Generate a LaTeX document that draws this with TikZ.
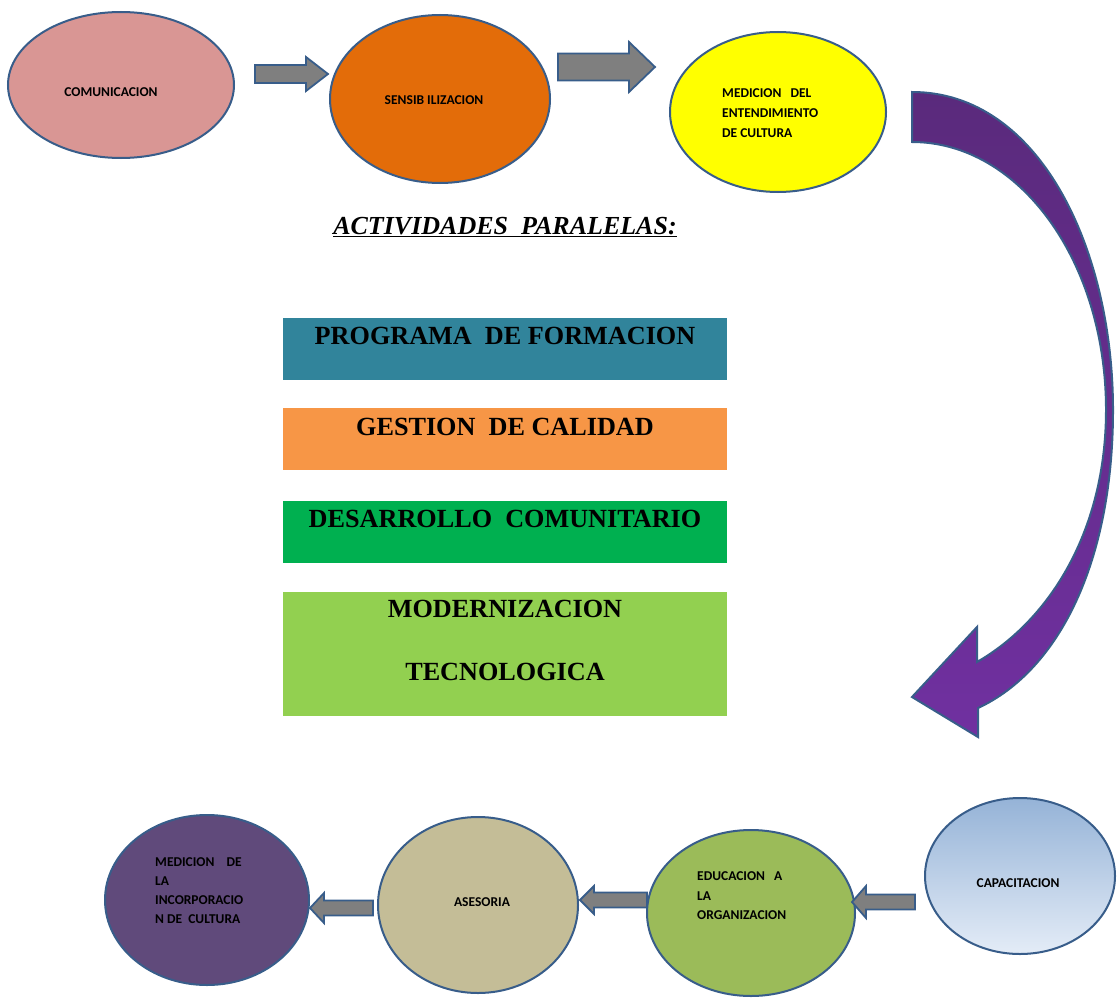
\documentclass[tikz,border=0pt]{standalone}
\usepackage{fontspec}
\setmainfont{Liberation Serif}
\newfontfamily\carl{Carlito}
\usetikzlibrary{shapes.geometric}
\definecolor{edgeblue}{HTML}{385D8A}
\definecolor{pinkc}{HTML}{D99694}
\definecolor{orangec}{HTML}{E36C09}
\definecolor{yellowc}{HTML}{FFFF00}
\definecolor{violetc}{HTML}{604A7B}
\definecolor{sandc}{HTML}{C4BD97}
\definecolor{olivec}{HTML}{9BBB59}
\definecolor{capatop}{HTML}{95B3D7}
\definecolor{capabot}{HTML}{E4ECF7}
\definecolor{tealc}{HTML}{31849B}
\definecolor{lorange}{HTML}{F79646}
\definecolor{greenc}{HTML}{00B050}
\definecolor{lgreen}{HTML}{92D050}
\definecolor{grayarr}{HTML}{7F7F7F}
\definecolor{purpD}{HTML}{5A2A7C}
\definecolor{purpL}{HTML}{7030A0}
\newcommand\blkarrow[6]{%
  \draw[blockarr] (#1,{#3-#4}) -- ({#2-#6},{#3-#4}) -- ({#2-#6},{#3-#5}) -- (#2,#3)
    -- ({#2-#6},{#3+#5}) -- ({#2-#6},{#3+#4}) -- (#1,{#3+#4}) -- cycle;}
\begin{document}
\begin{tikzpicture}[x=1pt,y=-1pt,
  oval/.style={ellipse, draw=edgeblue, line width=2pt, inner sep=0pt},
  lbl/.style={font=\carl\bfseries\fontsize{13.5}{19.5}\selectfont, inner sep=0pt, text=black},
  mlbl/.style={lbl, align=left, anchor=north west},
  bar/.style={draw=none, inner sep=0pt, minimum width=444pt},
  bartext/.style={font=\bfseries\fontsize{26.2}{32}\selectfont, inner sep=0pt, anchor=base},
  blockarr/.style={fill=grayarr, draw=edgeblue, line width=1.8pt, line join=miter},
  curvearr/.style={draw=edgeblue, line width=2pt, top color=purpD, bottom color=purpL, line join=miter}
]
\useasboundingbox (0,0) rectangle (1118,998);

% top row
\node[oval, fill=pinkc, minimum width=226pt, minimum height=146pt] (com) at (121,85) {};
\node[lbl, anchor=base] (comt) at (111,96.5) {COMUNICACION};
\node[oval, fill=orangec, minimum width=220pt, minimum height=168pt] (sen) at (440,99) {};
\node[lbl, anchor=base] (sent) at (434,104.5) {SENSIB ILIZACION};
\node[oval, fill=yellowc, minimum width=216pt, minimum height=160pt] (med) at (778,112) {};
\node[mlbl, font=\carl\bfseries\fontsize{13.5}{20}\selectfont] (medt) at (722,88.5) {MEDICION\ \ \ DEL\\ENTENDIMIENTO\\DE CULTURA};

\blkarrow{255}{328}{74}{9}{17}{22}
\blkarrow{558}{655}{67}{13.5}{25}{26}

% curved arrow
\draw[curvearr] (912,92) .. controls (1040,92) and (1113,250) .. (1113,410)
  .. controls (1113,560) and (1060,670) .. (978,708) -- (978,737) -- (912,697)
  -- (977,627) -- (977,662) .. controls (1050,620) and (1106,530) .. (1106,410)
  .. controls (1106,262) and (1020,142) .. (912,142) -- cycle;

% title
\node[font=\bfseries\itshape\fontsize{26}{30}\selectfont, inner sep=0pt, anchor=base] (title) at (505,234) {\underline{ACTIVIDADES\ \ PARALELAS:}};

% bars
\node[bar, fill=tealc, minimum height=62pt] (b1) at (505,349) {};
\node[bartext] (b1t) at (505,344) {PROGRAMA\ \ DE FORMACION};
\node[bar, fill=lorange, minimum height=62pt] (b2) at (505,439) {};
\node[bartext] (b2t) at (505,435) {GESTION\ \ DE CALIDAD};
\node[bar, fill=greenc, minimum height=62pt] (b3) at (505,532) {};
\node[bartext] (b3t) at (505,527) {DESARROLLO\ \ COMUNITARIO};
\node[bar, fill=lgreen, minimum height=124pt] (b4) at (505,654) {};
\node[bartext] (b4t) at (505,617) {MODERNIZACION};
\node[bartext] (b4u) at (505,680) {TECNOLOGICA};

% bottom row
\node[oval, fill=violetc, minimum width=204pt, minimum height=170pt] (inc) at (207,900) {};
\node[mlbl, font=\carl\bfseries\fontsize{13.5}{19}\selectfont] (inct) at (155,857.5) {MEDICION\ \ \ \ DE\\LA\\INCORPORACIO\\N DE\ \ CULTURA};
\node[oval, fill=sandc, minimum width=200pt, minimum height=176pt] (ase) at (478,905) {};
\node[lbl, anchor=base] (aset) at (482,906.5) {ASESORIA};
\node[oval, fill=olivec, minimum width=208pt, minimum height=166pt] (edu) at (751,913) {};
\node[mlbl] (edut) at (697,871.5) {EDUCACION\ \ \ A\\LA\\ORGANIZACION};
\node[oval, top color=capatop, bottom color=capabot, minimum width=190pt, minimum height=156pt] (cap) at (1020,876) {};
\node[lbl, anchor=base] (capt) at (1018,887) {CAPACITACION};

\blkarrow{915}{852}{902}{7.5}{16}{-14}
\blkarrow{647}{580}{900}{7.5}{14}{-14}
\blkarrow{373}{310}{908}{7.5}{15}{-14}
\end{tikzpicture}
\end{document}
